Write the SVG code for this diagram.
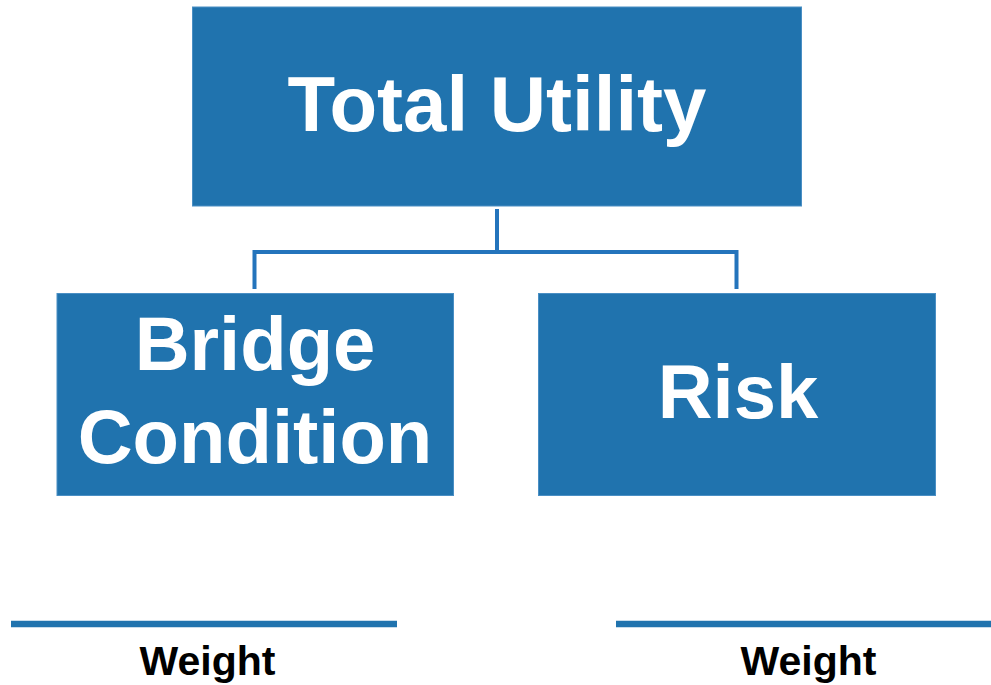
<svg xmlns="http://www.w3.org/2000/svg" width="991" height="685" viewBox="0 0 991 685">
<style>
.box{fill:#2073ae;stroke:#4a8fc4;stroke-width:1}
.lbl{font-family:"Liberation Sans",Arial,sans-serif;font-weight:bold;fill:#ffffff;text-anchor:middle}
.conn{fill:none;stroke:#2474bc;stroke-width:4}
.bar{fill:none;stroke:#2073ae;stroke-width:6.5}
.w{font-family:"Liberation Sans",Arial,sans-serif;font-weight:bold;fill:#000000;text-anchor:middle;font-size:41px}
</style>
<rect width="991" height="685" fill="#ffffff"/>
<g id="connectors">
<path class="conn" d="M497 209 V252 M254.5 289 V252 H736.5 V289"/>
</g>
<g id="total-utility">
<rect class="box" x="192.5" y="7" width="609" height="199"/>
<text class="lbl" x="497" y="131" font-size="78">Total Utility</text>
</g>
<g id="bridge-condition">
<rect class="box" x="57" y="293.5" width="396.5" height="202"/>
<text class="lbl" x="255" y="370" font-size="76">Bridge</text>
<text class="lbl" x="255" y="462.5" font-size="76">Condition</text>
</g>
<g id="risk">
<rect class="box" x="538.5" y="293.5" width="397" height="202"/>
<text class="lbl" x="738" y="418" font-size="76">Risk</text>
</g>
<g id="weight-left">
<line class="bar" x1="11" y1="624" x2="397" y2="624"/>
<text class="w" x="207.5" y="675">Weight</text>
</g>
<g id="weight-right">
<line class="bar" x1="616" y1="624" x2="991" y2="624"/>
<text class="w" x="808.5" y="675">Weight</text>
</g>
</svg>
